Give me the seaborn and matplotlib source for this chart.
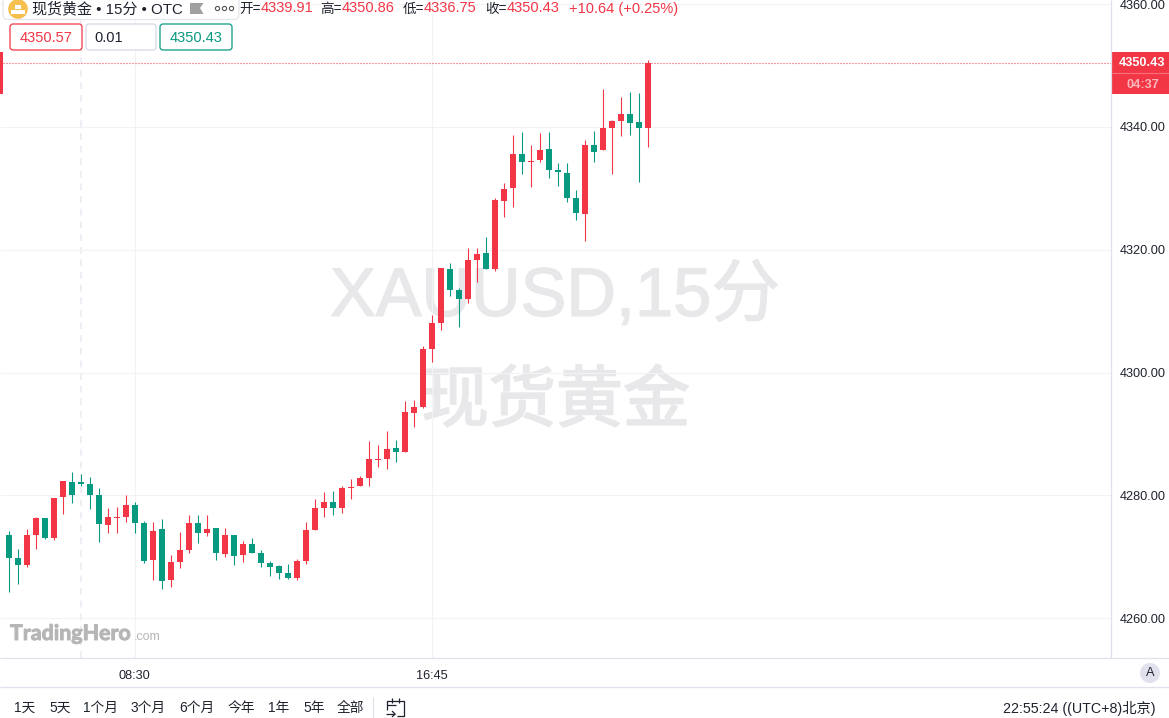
import matplotlib
matplotlib.use("Agg")
import matplotlib.pyplot as plt
import matplotlib.patheffects as pe
from matplotlib.patches import FancyBboxPatch, Rectangle, Circle, Polygon
import pandas as pd
import seaborn as sns
import seaborn.objects as so

opens = [4273.6,4269.8,4268.7,4273.6,4276.3,4273.1,4279.7,4282.2,4282.2,4281.8,4280.1,4275.2,4276.3,4276.5,4278.4,4275.5,4269.5,4274.5,
         4266.2,4269.2,4271.1,4275.5,4273.9,4274.7,4270.5,4273.6,4270.3,4272.1,4270.6,4269.0,4268.5,4267.4,4266.5,4269.3,4274.4,4277.9,
         4278.9,4277.9,4281.2,4281.5,4282.8,4285.7,4285.9,4287.7,4287.1,4293.4,4294.4,4303.9,4308.1,4316.9,4313.5,4312.0,4318.3,4319.5,
         4316.9,4328.0,4330.1,4335.6,4334.3,4334.6,4336.4,4333.0,4332.5,4328.4,4325.8,4337.1,4336.3,4339.9,4341.0,4342.1,4340.8,4339.91]
closes = [4269.8,4268.7,4273.6,4276.3,4273.1,4279.6,4282.3,4280.1,4281.8,4280.1,4275.3,4276.5,4276.5,4278.4,4275.5,4269.3,4274.2,4266.1,
          4269.2,4271.1,4275.5,4273.9,4274.5,4270.6,4273.6,4270.1,4272.1,4270.6,4269.0,4268.3,4267.4,4266.5,4269.3,4274.4,4277.9,4278.9,
          4277.9,4281.2,4281.4,4282.8,4285.9,4285.9,4287.6,4287.1,4293.6,4294.4,4303.9,4308.1,4317.0,4313.5,4312.0,4318.3,4319.3,4316.9,
          4328.1,4329.9,4335.6,4334.3,4334.5,4336.3,4333.0,4332.7,4328.4,4326.0,4337.1,4335.9,4339.8,4341.0,4342.1,4340.7,4339.9,4350.43]
highs = [4274.2,4271.3,4274.5,4276.5,4276.3,4279.6,4282.3,4283.8,4283.5,4283.0,4281.2,4277.9,4278.1,4280.1,4278.9,4275.8,4275.7,4276.2,
         4270.3,4274.0,4276.8,4276.8,4276.8,4274.7,4274.7,4273.6,4272.6,4273.1,4271.1,4269.3,4268.7,4268.8,4269.6,4275.7,4279.4,4280.6,
         4280.7,4281.5,4282.7,4283.2,4288.9,4288.2,4290.5,4289.0,4295.4,4295.5,4304.3,4309.4,4317.0,4317.9,4313.8,4320.3,4320.3,4322.1,
         4328.4,4330.9,4338.7,4339.2,4337.1,4339.0,4339.2,4334.1,4334.1,4329.7,4337.9,4339.4,4346.2,4341.1,4344.9,4345.7,4345.5,4350.86]
lows = [4264.3,4265.6,4268.3,4271.3,4272.9,4272.7,4277.0,4278.8,4281.5,4277.8,4272.4,4273.9,4273.9,4275.7,4273.9,4269.0,4266.2,4264.8,
        4265.1,4268.2,4270.6,4272.2,4273.4,4269.5,4270.0,4268.7,4269.2,4270.6,4268.3,4266.9,4266.4,4266.4,4266.2,4268.8,4274.4,4276.5,
        4276.8,4277.1,4279.4,4281.5,4281.5,4284.6,4284.3,4285.4,4287.1,4291.1,4294.2,4301.7,4306.9,4312.5,4307.4,4311.3,4314.8,4316.9,
        4316.6,4325.3,4327.0,4332.3,4330.2,4334.3,4331.7,4330.4,4327.8,4324.9,4321.4,4334.3,4336.3,4332.3,4338.5,4338.7,4331.0,4336.75]
price_ticks = [4260, 4280, 4300, 4320, 4340, 4360]
time_tick_bars = [14, 47]
time_tick_labels = ["08:30", "16:45"]
session_break_bar = 8
range_labels = ["1天", "5天", "1个月", "3个月", "6个月", "今年", "1年", "5年", "全部"]

RED = "#f23645"
GREEN = "#089981"
GRID = "#f3f3f6"
BORDER = "#e0e1ec"
INK = "#1e222d"
HALF_PIXEL = 0.5 / 9
HALF_PIXEL_PRICE = 0.5 / 6.14

sns.set_style("white", {"axes.grid": False})
plt.rcParams["font.family"] = ["Liberation Sans", "Noto Sans CJK SC", "DejaVu Sans"]
plt.rcParams["lines.solid_capstyle"] = "butt"

candles = pd.DataFrame({"bar": range(len(opens)), "open": opens, "close": closes, "high": highs, "low": lows})
candles["wick_bar"] = candles["bar"] - HALF_PIXEL
candles["body_low"] = candles[["open", "close"]].min(axis=1)
candles["body_high"] = candles[["open", "close"]].max(axis=1)
candles["direction"] = ["up" if c >= o else "down" for o, c in zip(opens, closes)]

W, H = 1169, 718
fig = plt.figure(figsize=(W / 100, H / 100), dpi=100, facecolor="white")
ax = fig.add_axes([0, 60 / H, 1111 / W, 658 / H], facecolor="white")

# watermark under the candles
wm = dict(ha="center", va="center", color="#e8e8ea", zorder=0.5, transform=fig.transFigure)
ax.text(555 / W, 1 - 297 / H, "XAUUSD,15分", fontsize=49.4,
        path_effects=[pe.withStroke(linewidth=1.0, foreground="#e8e8ea")], **wm)
ax.text(556 / W, 1 - 404 / H, "现货黄金", fontsize=48.3,
        path_effects=[pe.withStroke(linewidth=1.4, foreground="#e8e8ea")], **wm)

(
    so.Plot(candles)
    .add(so.Range(linewidth=0.78), x="wick_bar", ymin="low", ymax="high", color="direction", legend=False)
    .add(so.Range(linewidth=4.32), x="bar", ymin="body_low", ymax="body_high", color="direction", legend=False)
    .scale(color=so.Nominal({"up": RED, "down": GREEN}))
    .limit(x=(-1, 122.44), y=(4253.52, 4360.68))
    .label(x="", y="")
    .on(ax)
    .plot()
)

ax.set_xlim(-1, 122.44)
ax.set_ylim(4253.52, 4360.68)
ax.set_yticks(price_ticks)
ax.set_yticklabels([f"{p:.2f}" for p in price_ticks])
ax.set_xticks([b - HALF_PIXEL for b in time_tick_bars])
ax.set_xticklabels(time_tick_labels)
ax.yaxis.tick_right()
ax.tick_params(axis="both", length=0, labelsize=9.2, labelcolor=INK)
ax.tick_params(axis="y", pad=6.5)
ax.tick_params(axis="x", pad=8.5)
ax.grid(True, color=GRID, linewidth=0.8, zorder=0)
ax.set_axisbelow(True)
sns.despine(ax=ax, left=True, top=True, right=True, bottom=True)
ax.axvline(session_break_bar, color="#eeeef4", linewidth=1.4, linestyle=(0, (3.5, 3)), zorder=0.4)
ax.axhline(closes[-1] - HALF_PIXEL_PRICE, color=RED, linewidth=0.8, linestyle=(0, (0.9, 1.8)), zorder=3)

# interface chrome, placed in pixels
ui = fig.add_axes([0, 0, 1, 1], facecolor="none")
ui.set_xlim(0, W)
ui.set_ylim(H, 0)
ui.axis("off")

def label(x, y, s, size=10.4, color=INK, ha="left", **kw):
    return ui.text(x, y, s, fontsize=size, color=color, ha=ha, va="center", **kw)

def box(x0, y0, x1, y1, edge, radius=3, face="white", lw=0.9):
    ui.add_patch(FancyBboxPatch((x0 + radius, y0 + radius), x1 - x0 - 2 * radius, y1 - y0 - 2 * radius,
                                boxstyle=f"round,pad={radius},rounding_size={radius}",
                                facecolor=face, edgecolor=edge, linewidth=lw))

ui.plot([1111, 1111], [0, 658], color=BORDER, lw=0.9)
ui.plot([0, W], [658, 658], color=BORDER, lw=0.9)
ui.plot([0, W], [687, 687], color=BORDER, lw=0.9)

# title panel
box(3, -20, 239, 19.5, "#e6e6ec", radius=5)
ui.add_patch(Circle((18, 9), 9.8, facecolor="#f5c04e", edgecolor="none"))
for rx, ry in [(14.5, 5), (11, 9.8), (18.2, 9.8)]:
    ui.add_patch(Rectangle((rx, ry), 6.6, 3.8, facecolor="white", edgecolor="none"))
label(32, 9, "现货黄金 • 15分 • OTC", size=10.85)
ui.add_patch(Polygon([(190, 3), (203.5, 3), (200, 8), (203.5, 14), (190, 14)], facecolor="#a0a0a0", edgecolor="none"))
for cx in (217.5, 224.5, 231.5):
    ui.add_patch(Circle((cx, 8.5), 2.1, facecolor="white", edgecolor="#555555", linewidth=0.8))

# OHLC read-out
for x, s in [(239.5, "开="), (320.5, "高="), (402.5, "低="), (485.5, "收=")]:
    label(x, 8.5, s, size=9.8)
for x, v in [(261, opens[-1]), (342, highs[-1]), (424, lows[-1]), (507, closes[-1])]:
    label(x, 8.5, f"{v:.2f}", size=10.5, color=RED)
label(569, 8.5, "+10.64 (+0.25%)", size=10.55, color=RED)

# bid / spread / ask
box(10, 24, 82, 50, RED)
label(46, 37.5, "4350.57", size=10.5, color=RED, ha="center")
box(86, 24, 156, 50, "#d6d8e4")
label(94, 37.5, "0.01", size=10.5)
box(160, 24, 232, 50, GREEN)
label(196, 37.5, "4350.43", size=10.5, color=GREEN, ha="center")

# price tag and edge marker
ui.add_patch(Rectangle((1112, 52), 57, 42, facecolor=RED, edgecolor="none"))
ui.plot([1112, W], [73, 73], color="#f6707c", lw=0.8)
label(1119, 63.5, f"{closes[-1]:.2f}", size=9.2, color="white", fontweight="bold")
label(1126.5, 85.5, "04:37", size=9.2, color="#fbb6bc", fontweight="bold")
ui.add_patch(Rectangle((0, 52), 3, 42, facecolor=RED, edgecolor="none"))

# logo
label(10, 634, "TradingHero", size=15.4, color="#b6b6b6", fontweight="bold", family=["Lato"],
      path_effects=[pe.withStroke(linewidth=0.7, foreground="#b6b6b6")])
label(133.5, 637.5, ".com", size=9.0, color="#b6b6b6")

# auto-scale button
ui.add_patch(Circle((1150, 673), 10, facecolor="#e0e1ec", edgecolor="none"))
label(1150, 673.5, "A", size=9.2, ha="center")

# range buttons
for x, s in zip([14, 49, 83, 131, 179, 228, 268, 303, 337], range_labels):
    label(x, 708, s, size=9.9)
ui.plot([373, 373], [697, 718], color=BORDER, lw=0.9)
ui.plot([387, 387, 404, 404, 397], [710, 701, 701, 716, 716], color=INK, lw=0.9)
ui.plot([392, 392], [698, 703], color=INK, lw=0.9)
ui.plot([399, 399], [698, 703], color=INK, lw=0.9)
ui.plot([387, 396], [705, 705], color=INK, lw=0.9)
ui.plot([386, 395], [714, 714], color=INK, lw=0.9)
ui.plot([392, 395, 392], [711, 714, 717], color=INK, lw=0.9)
label(1155.5, 708, "22:55:24 ((UTC+8)北京)", size=10.3, ha="right")

fig.savefig("out.png", dpi=100)
